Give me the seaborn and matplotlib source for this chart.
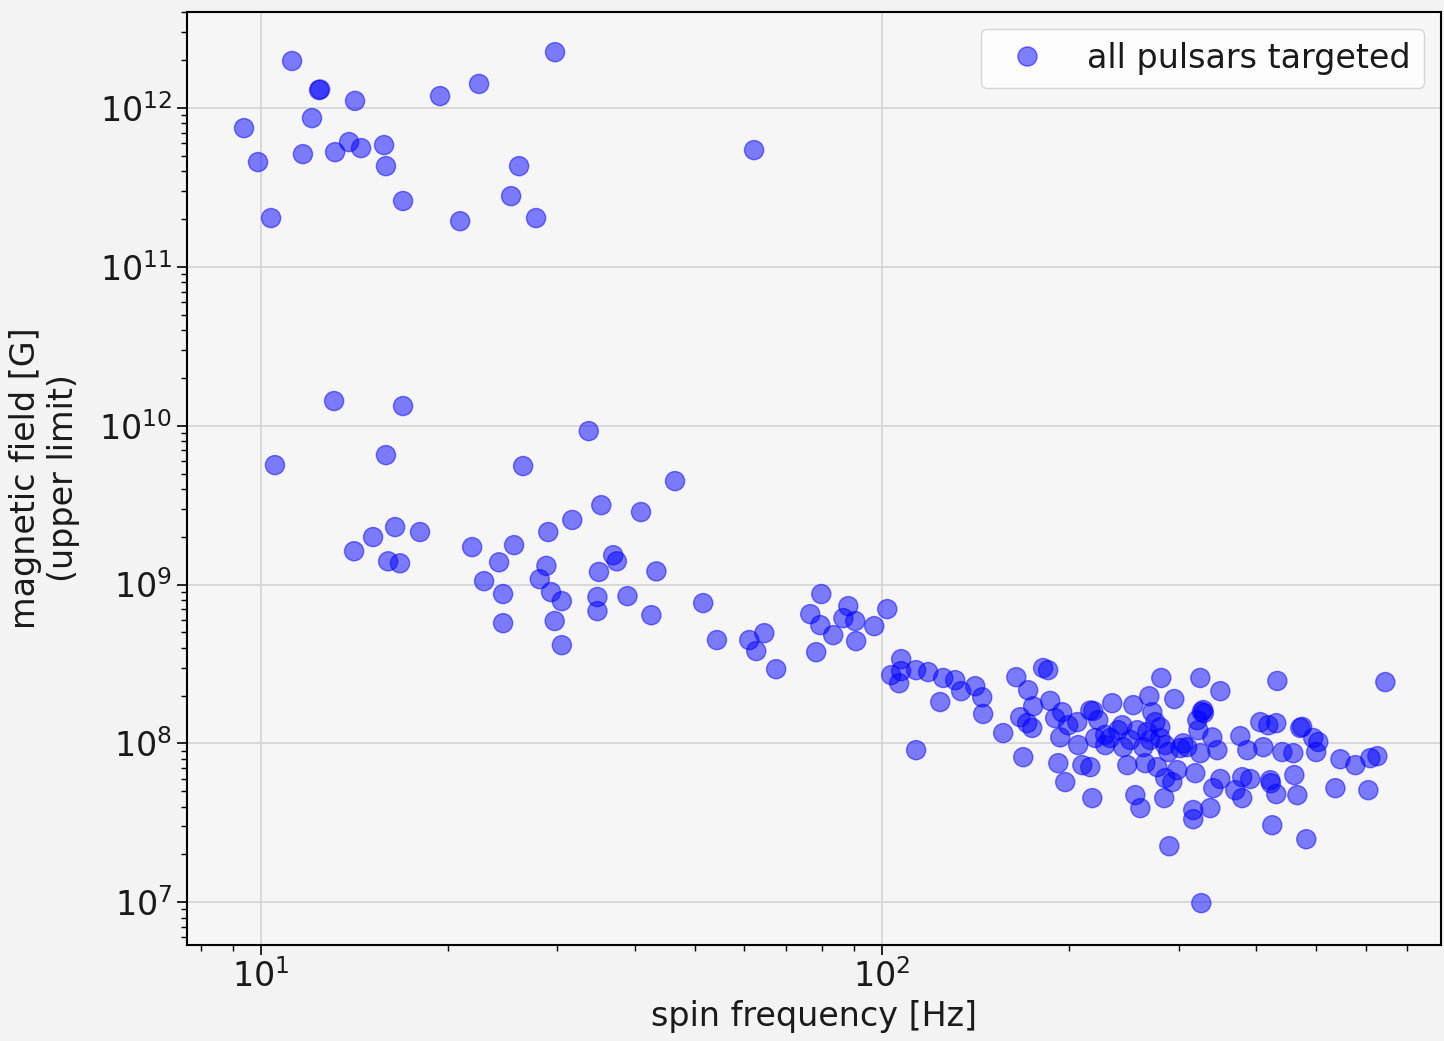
import numpy as np
import pandas as pd
import matplotlib
matplotlib.use("Agg")
import matplotlib.pyplot as plt
import seaborn as sns

# spin frequency [Hz]
freq_slow = [9.39, 9.89, 10.38, 11.22, 11.68, 12.08, 12.40, 12.45, 13.16, 13.86, 14.17, 14.49,
             15.78, 15.89, 16.93, 19.42, 20.92, 22.44, 25.27, 26.03, 27.72, 29.74, 62.2]
bfield_slow = [7.48e11, 4.57e11, 2.03e11, 1.98e12, 5.13e11, 8.65e11, 1.30e12, 1.31e12, 5.28e11,
               6.11e11, 1.11e12, 5.60e11, 5.85e11, 4.31e11, 2.60e11, 1.19e12, 1.94e11, 1.42e12,
               2.79e11, 4.31e11, 2.03e11, 2.25e12, 5.44e11]

freq_mid = [10.53, 13.11, 16.93, 15.89, 33.7, 26.42, 46.4, 35.3, 40.9, 31.7, 29.0, 16.44, 18.03,
            15.15, 14.12, 21.87, 25.55, 24.17, 16.02, 16.74, 36.9, 37.4, 28.8, 35.0, 43.3, 22.86,
            28.1, 24.53, 29.3, 30.5, 34.8, 34.8, 38.9, 42.5, 24.53, 29.7, 30.5, 51.5, 54.2, 61.1,
            64.6, 62.7, 67.5, 79.8, 76.6, 88.2, 86.6, 90.5, 79.5, 83.4, 97.1, 101.9, 90.8, 78.3]
bfield_mid = [5.65e9, 1.43e10, 1.33e10, 6.53e9, 9.25e9, 5.57e9, 4.48e9, 3.16e9, 2.86e9, 2.55e9,
              2.14e9, 2.30e9, 2.14e9, 1.99e9, 1.62e9, 1.72e9, 1.77e9, 1.38e9, 1.40e9, 1.36e9,
              1.53e9, 1.40e9, 1.31e9, 1.20e9, 1.21e9, 1.05e9, 1.08e9, 8.71e8, 8.96e8, 7.86e8,
              8.34e8, 6.80e8, 8.45e8, 6.41e8, 5.71e8, 5.89e8, 4.15e8, 7.64e8, 4.47e8, 4.47e8,
              4.94e8, 3.81e8, 2.93e8, 8.71e8, 6.51e8, 7.31e8, 6.14e8, 5.89e8, 5.55e8, 4.80e8,
              5.47e8, 7.00e8, 4.40e8, 3.75e8]

freq_fast = [107.3, 103.4, 107.3, 106.5, 113.4, 118.6, 125.4, 131.1, 134.0, 141.2, 144.9, 145.4,
             156.6, 164.4, 124.0, 113.4,
             181.6, 185.0, 171.8, 175.0, 186.4, 166.8, 171.2, 174.4, 194.9, 189.9, 199.3, 206.1,
             193.5, 206.8, 216.3, 218.7, 222.8, 220.3, 234.6, 232.8, 243.5, 253.7, 244.3, 257.4,
             269.2, 272.2, 280.4, 267.2, 280.4, 263.3, 281.4, 295.3, 288.8, 305.3, 325.2, 350.3,
             328.8, 329.5, 327.0, 321.6, 322.9, 340.0, 346.4, 325.2, 309.8, 377.2, 387.1, 410.8,
             432.7, 406.2, 418.4, 431.0, 440.7, 459.1, 471.1, 474.4, 494.3, 503.6, 499.7, 645.7,
             546.6, 577.9, 610.8, 626.9, 168.7, 192.1, 197.1, 210.0, 216.3, 217.9, 248.1, 265.2,
             277.3, 298.5, 319.2, 285.6, 293.1, 350.3, 341.2, 379.9, 391.4, 370.2, 379.9, 421.5,
             422.5, 431.0, 460.8, 466.0, 536.6, 606.3, 255.6, 260.4, 284.5, 316.8, 316.8, 337.5,
             424.6, 481.7, 289.9, 326.4, 228.6, 239.9, 270.2, 275.3, 228.6, 250.8, 285.6, 302.0]
bfield_fast = [3.39e8, 2.69e8, 2.85e8, 2.39e8, 2.89e8, 2.81e8, 2.58e8, 2.50e8, 2.13e8, 2.29e8,
               1.95e8, 1.53e8, 1.16e8, 2.61e8, 1.82e8, 9.06e7,
               2.98e8, 2.89e8, 2.16e8, 1.71e8, 1.85e8, 1.46e8, 1.34e8, 1.25e8, 1.57e8, 1.44e8,
               1.30e8, 1.36e8, 1.09e8, 9.75e7, 1.61e8, 1.60e8, 1.40e8, 1.08e8, 1.79e8, 1.08e8,
               1.30e8, 1.74e8, 9.46e7, 1.21e8, 1.98e8, 1.57e8, 1.26e8, 1.18e8, 1.08e8, 9.46e7,
               2.58e8, 1.90e8, 8.81e7, 1.00e8, 2.58e8, 2.13e8, 1.62e8, 1.55e8, 1.58e8, 1.40e8,
               1.21e8, 1.09e8, 9.06e7, 8.67e7, 9.46e7, 1.11e8, 9.06e7, 9.46e7, 2.47e8, 1.36e8,
               1.30e8, 1.34e8, 8.81e7, 8.67e7, 1.25e8, 1.27e8, 1.08e8, 1.02e8, 8.81e7, 2.43e8,
               7.94e7, 7.29e7, 8.07e7, 8.30e7, 8.18e7, 7.50e7, 5.70e7, 7.29e7, 7.08e7, 4.52e7,
               7.29e7, 7.50e7, 7.08e7, 6.78e7, 6.49e7, 6.04e7, 5.70e7, 5.96e7, 5.22e7, 6.12e7,
               5.96e7, 5.07e7, 4.52e7, 5.86e7, 5.61e7, 4.79e7, 6.31e7, 4.72e7, 5.22e7, 5.07e7,
               4.72e7, 3.91e7, 4.52e7, 3.80e7, 3.33e7, 3.91e7, 3.05e7, 2.49e7, 2.25e7, 9.86e6,
               1.13e8, 1.21e8, 1.05e8, 1.36e8, 9.75e7, 1.05e8, 9.75e7, 9.33e7]

freq = freq_slow + freq_mid + freq_fast
bfield = bfield_slow + bfield_mid + bfield_fast
df = pd.DataFrame({"freq": freq, "bfield": bfield, "label": "all pulsars targeted"})

sns.set_theme(style="ticks")
plt.rcParams["font.family"] = ["DejaVu Sans"]
plt.rcParams["text.color"] = "#1a1a1a"
plt.rcParams["axes.labelcolor"] = "#1a1a1a"
plt.rcParams["xtick.color"] = "black"
plt.rcParams["ytick.color"] = "black"
plt.rcParams["xtick.labelcolor"] = "#1a1a1a"
plt.rcParams["ytick.labelcolor"] = "#1a1a1a"

fig = plt.figure(figsize=(14.44, 10.41), dpi=100, facecolor="#f3f3f3")
ax = fig.add_axes([0.1295, 0.0922, 0.8685, 0.8963])
ax.set_facecolor("#f6f6f6")

sns.scatterplot(data=df, x="freq", y="bfield", hue="label", palette=["blue"],
                alpha=0.5, s=190, edgecolor="blue", linewidth=1.0, ax=ax, zorder=3)

ax.set_xscale("log")
ax.set_yscale("log")
ax.set_xlim(7.6, 794)
ax.set_ylim(5.37e6, 4.03e12)
ax.grid(True, which="major", color="#d4d4d4", linewidth=1.2, zorder=0)
ax.set_axisbelow(True)
for sp in ax.spines.values():
    sp.set_color("black")
    sp.set_linewidth(1.5)
    sp.set_visible(True)
ax.tick_params(axis="both", which="major", labelsize=24, length=7, width=1.2, direction="out")
ax.tick_params(axis="both", which="minor", length=4, width=1.0, direction="out")
ax.set_xlabel("spin frequency [Hz]", fontsize=24, labelpad=4)
ax.set_ylabel("magnetic field [G]\n(upper limit)", fontsize=24, labelpad=14)

leg = ax.legend(loc="upper right", fontsize=24, frameon=True, fancybox=True,
                borderpad=0.4, handletextpad=0.8, markerscale=1.0)
leg.get_frame().set_facecolor("white")
leg.get_frame().set_edgecolor("#cccccc")
leg.set_title(None)

fig.savefig("out.png", dpi=100, facecolor=fig.get_facecolor())
